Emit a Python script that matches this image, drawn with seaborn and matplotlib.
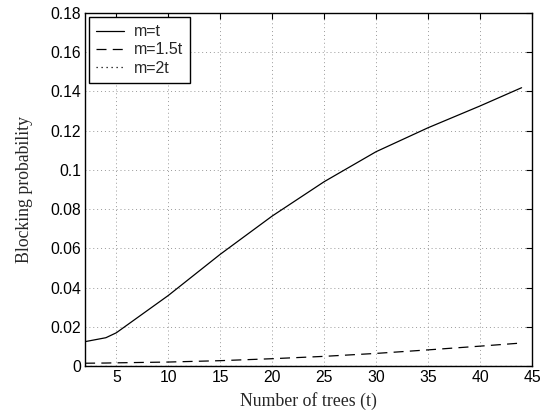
import matplotlib
matplotlib.use("Agg")
import matplotlib.pyplot as plt
import seaborn as sns
import pandas as pd

t = [2, 4, 5, 10, 15, 20, 25, 30, 35, 40, 44]
m_t = [0.0125, 0.0145, 0.017, 0.036, 0.057, 0.0765, 0.094, 0.1093, 0.1215, 0.1326, 0.1419]
m_15t = [0.0015, 0.0016, 0.0017, 0.0021, 0.0028, 0.0038, 0.005, 0.0065, 0.0083, 0.0102, 0.0118]
m_2t = [0.0001, 0.0001, 0.0001, 0.0001, 0.0001, 0.0001, 0.0001, 0.0001, 0.0001, 0.0001, 0.0001]
labels = ["m=t", "m=1.5t", "m=2t"]
xticks = [5, 10, 15, 20, 25, 30, 35, 40, 45]
yticks = [0, 0.02, 0.04, 0.06, 0.08, 0.1, 0.12, 0.14, 0.16, 0.18]
ytick_labels = ["0", "0.02", "0.04", "0.06", "0.08", "0.1", "0.12", "0.14", "0.16", "0.18"]

sns.set_style("white")
plt.rcParams['font.family'] = ['Liberation Sans', 'DejaVu Sans']

fig = plt.figure(figsize=(5.49, 4.18), dpi=100)
ax = fig.add_axes([0.155, 0.124, 0.814, 0.845])

styles = ["-", (0, (8, 5)), (0, (1, 3))]
for ys, lab, ls in zip([m_t, m_15t, m_2t], labels, styles):
    df = pd.DataFrame({"t": t, "p": ys})
    sns.lineplot(data=df, x="t", y="p", ax=ax, color="black", linewidth=0.9,
                 linestyle=ls, label=lab)

ax.set_xlim(2, 45)
ax.set_ylim(0, 0.18)
ax.set_xticks(xticks)
ax.set_yticks(yticks)
ax.set_yticklabels(ytick_labels)
ax.tick_params(direction="in", top=True, right=True, length=4, width=0.8,
               labelsize=11.3, colors="black", pad=3)
for s in ax.spines.values():
    s.set_color("black")
    s.set_linewidth(1.0)
ax.grid(True, color="#999999", linestyle=(0, (1, 3)), linewidth=0.7)
ax.set_xlabel("Number of trees (t)", family="Liberation Serif", fontsize=12.8, labelpad=5)
ax.set_ylabel("Blocking probability", family="Liberation Serif", fontsize=12.8, labelpad=12)

leg = ax.legend(loc="upper left", fontsize=11.5, frameon=True, fancybox=False,
                edgecolor="black", framealpha=1, borderaxespad=0.25,
                handlelength=1.75, handletextpad=0.6, labelspacing=0.2,
                borderpad=0.45)
leg.get_frame().set_linewidth(1.0)

fig.savefig("out.png", dpi=100)
